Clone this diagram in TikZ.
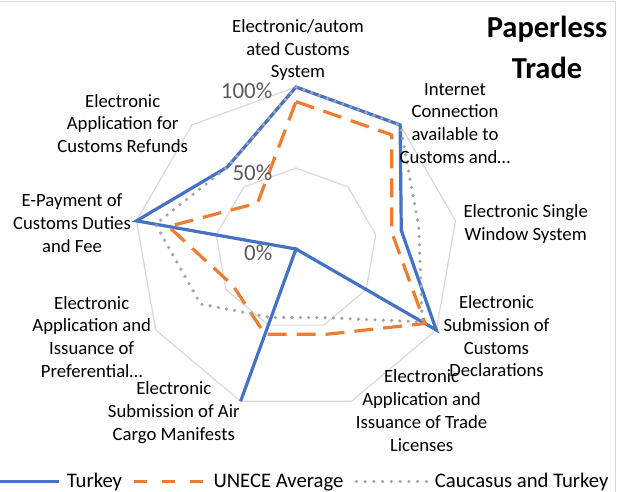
\documentclass[tikz,border=0pt]{standalone}
\usepackage{fontspec}
\setmainfont{Carlito}
\definecolor{tblue}{HTML}{4472C4}
\definecolor{torange}{HTML}{ED7D31}
\definecolor{tgray}{HTML}{A5A5A5}
\definecolor{gridc}{HTML}{D9D9D9}
\definecolor{lblc}{HTML}{595959}
\begin{document}
\begin{tikzpicture}[x=1pt,y=-1pt,
  gridline/.style={draw=gridc, line width=1.2pt},
  turkey/.style={draw=tblue, line width=3.2pt},
  unece/.style={draw=torange, line width=3.2pt, dash pattern=on 19pt off 10pt},
  legunece/.style={draw=torange, line width=3.2pt, dash pattern=on 13pt off 15pt},
  cauc/.style={draw=tgray, line width=3.6pt, line cap=round, dash pattern=on 0pt off 8.3pt},
  legcauc/.style={draw=tgray, line width=3.6pt, line cap=round, dash pattern=on 0pt off 8.75pt},
  catlbl/.style={align=center, inner sep=0pt, font=\fontsize{18.7}{22.7}\selectfont},
  vallbl/.style={anchor=east, inner sep=0pt, text=lblc, font=\fontsize{23}{27}\selectfont},
  leglbl/.style={anchor=base west, inner sep=0pt, font=\fontsize{20.7}{25}\selectfont},
  titlelbl/.style={align=center, inner sep=0pt, font=\fontsize{30.5}{40.8}\selectfont\bfseries},
]
\useasboundingbox (0,0) rectangle (618,492);
% frame
\draw[gridline] (0,1.8) -- (615.8,1.8) -- (615.8,492);
\coordinate (O) at (296,249);
\begin{scope}[shift={(O)}]
  % grid rings
  \draw[gridline] (-90:162) \foreach \k in {1,...,8}{ -- ({\k*40-90}:162)} -- cycle;
  \draw[gridline] (-90:81) \foreach \k in {1,...,8}{ -- ({\k*40-90}:81)} -- cycle;
  % Turkey
  \draw[turkey] (-90:162) -- (-50:162) -- (-10:106.9) -- (30:162) -- (70:0)
     -- (110:162) -- (150:0) -- (190:162) -- (230:106.9) -- cycle;
  % UNECE Average
  \draw[unece] (-90:147.4) -- (-50:149) -- (-10:97.2) -- (30:149) -- (70:90.7)
     -- (110:90.7) -- (150:72.9) -- (190:129.6) -- (230:59.9) -- cycle;
  % Caucasus and Turkey
  \draw[cauc] (-90:162) -- (-50:162) -- (-10:124.7) -- (30:145.8) -- (70:72.9)
     -- (110:72.9) -- (150:110.2) -- (190:142.6) -- (230:106.9) -- cycle;
\end{scope}
% value labels
\node[vallbl] (v100) at (272.5,90.5) {100\%};
\node[vallbl] (v50) at (272.5,172.5) {50\%};
\node[vallbl] (v0) at (272.5,252.5) {0\%};
% category labels
\node[catlbl] (a0) at (298,50.5) {\strut Electronic/autom\\ated Customs\\System\strut};
\node[catlbl] (a1) at (455,124.7) {\strut Internet\\Connection\\available to\\Customs and…\strut};
\node[catlbl] (a2) at (525.7,224.5) {\strut Electronic Single\\Window System\strut};
\node[catlbl] (a3) at (496.5,338.2) {\strut Electronic\\Submission of\\Customs\\Declarations\strut};
\node[catlbl] (a4) at (421.6,412.5) {\strut Electronic\\Application and\\Issuance of Trade\\Licenses\strut};
\node[catlbl] (a5) at (173.8,412.8) {\strut Electronic\\Submission of Air\\Cargo Manifests\strut};
\node[catlbl] (a6) at (91.7,338.6) {\strut Electronic\\Application and\\Issuance of\\Preferential…\strut};
\node[catlbl] (a7) at (72,225.1) {\strut E-Payment of\\Customs Duties\\and Fee\strut};
\node[catlbl] (a8) at (122.7,125.2) {\strut Electronic\\Application for\\Customs Refunds\strut};
% title
\node[titlelbl] (title) at (547,49.7) {\strut Paperless\\Trade\strut};
% legend
\draw[turkey] (0,481.5) -- (59.3,481.5);
\node[leglbl] (l1) at (66.7,487.5) {Turkey};
\draw[legunece] (134.3,481.5) -- (204,481.5);
\node[leglbl] (l2) at (213.3,487.5) {UNECE Average};
\draw[legcauc] (356.3,481.5) -- (426.5,481.5);
\node[leglbl] (l3) at (434.7,487.5) {Caucasus and Turkey};
\end{tikzpicture}
\end{document}
